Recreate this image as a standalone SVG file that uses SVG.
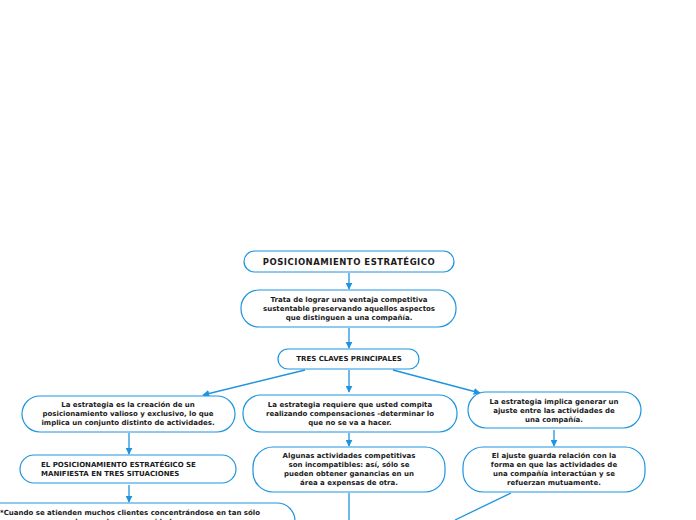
<svg xmlns="http://www.w3.org/2000/svg" width="696" height="520" viewBox="0 0 696 520">
<defs>
<marker id="ah" viewBox="0 0 10 10" refX="9" refY="5" markerWidth="7" markerHeight="7" markerUnits="userSpaceOnUse" orient="auto">
<path d="M0,0 L10,5 L0,10 z" fill="#1e94e0"/>
</marker>
<style>
.n{fill:#fff;stroke:#1e94e0;stroke-width:1.2}
.t{font-family:"DejaVu Sans",Verdana,sans-serif;font-weight:bold;font-size:7px;fill:#1a1a1a;text-anchor:middle}
.l{text-anchor:start}
.c{stroke:#1e94e0;stroke-width:1.3;fill:none}
</style>
</defs>
<rect width="696" height="520" fill="#fff"/>
<g id="connectors">
<path class="c" d="M349,273 V289" marker-end="url(#ah)"/>
<path class="c" d="M349,328 V348" marker-end="url(#ah)"/>
<path class="c" d="M305,370 L203,395" marker-end="url(#ah)"/>
<path class="c" d="M349,370 V392" marker-end="url(#ah)"/>
<path class="c" d="M393,370 L480,393" marker-end="url(#ah)"/>
<path class="c" d="M129,433 V454" marker-end="url(#ah)"/>
<path class="c" d="M349,433 V446" marker-end="url(#ah)"/>
<path class="c" d="M554,430 V446" marker-end="url(#ah)"/>
<path class="c" d="M129,485 V502" marker-end="url(#ah)"/>
<path class="c" d="M349,493 V520"/>
<path class="c" d="M511,493 L455,520"/>
</g>
<g id="n1"><rect class="n" x="244" y="251" width="210" height="21" rx="10.5"/><text class="t" x="349" y="265" style="font-size:8.5px;letter-spacing:0.5px">POSICIONAMIENTO ESTRATÉGICO</text></g>
<g id="n2"><rect class="n" x="241" y="290" width="215" height="37" rx="18"/><text class="t" x="349" y="302">Trata de lograr una ventaja competitiva</text><text class="t" x="349" y="311">sustentable preservando aquellos aspectos</text><text class="t" x="349" y="320">que distinguen a una compañía.</text></g>
<g id="n3"><rect class="n" x="278" y="349" width="141" height="20" rx="10"/><text class="t" x="349" y="361">TRES CLAVES PRINCIPALES</text></g>
<g id="n4"><rect class="n" x="22" y="396" width="213" height="36" rx="18"/><text class="t" x="128" y="407">La estrategia es la creación de un</text><text class="t" x="128" y="416">posicionamiento valioso y exclusivo, lo que</text><text class="t" x="128" y="425">implica un conjunto distinto de actividades.</text></g>
<g id="n5"><rect class="n" x="243" y="395" width="214" height="37" rx="18"/><text class="t" x="350" y="407">La estrategia requiere que usted compita</text><text class="t" x="350" y="416">realizando compensaciones -determinar lo</text><text class="t" x="350" y="425">que no se va a hacer.</text></g>
<g id="n6"><rect class="n" x="468" y="392" width="173" height="36" rx="18"/><text class="t" x="554" y="404">La estrategia implica generar un</text><text class="t" x="554" y="413">ajuste entre las actividades de</text><text class="t" x="554" y="422">una compañía.</text></g>
<g id="n7"><rect class="n" x="20" y="455" width="216" height="28" rx="14"/><text class="t l" x="41" y="467">EL POSICIONAMIENTO ESTRATÉGICO SE</text><text class="t l" x="41" y="476">MANIFIESTA EN TRES SITUACIONES</text></g>
<g id="n8"><rect class="n" x="253" y="447" width="192" height="45" rx="20"/><text class="t" x="349" y="458">Algunas actividades competitivas</text><text class="t" x="349" y="467">son incompatibles: así, sólo se</text><text class="t" x="349" y="476">pueden obtener ganancias en un</text><text class="t" x="349" y="485">área a expensas de otra.</text></g>
<g id="n9"><rect class="n" x="463" y="447" width="182" height="45" rx="20"/><text class="t" x="554" y="458">El ajuste guarda relación con la</text><text class="t" x="554" y="467">forma en que las actividades de</text><text class="t" x="554" y="476">una compañía interactúan y se</text><text class="t" x="554" y="485">refuerzan mutuamente.</text></g>
<g id="n10"><rect class="n" x="-20" y="503" width="315" height="40" rx="18"/><text class="t l" x="0" y="515">*Cuando se atienden muchos clientes concentrándose en tan sólo</text><text class="t" x="127" y="524">algunas de sus necesidades.</text></g>
</svg>
